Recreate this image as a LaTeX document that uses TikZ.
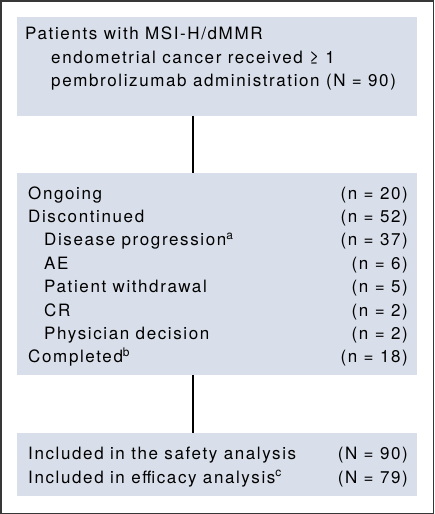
\documentclass[tikz,border=0pt]{standalone}
\usepackage{fontspec}
\setmainfont[LetterSpace=9.5]{TeX Gyre Heros}
\usetikzlibrary{positioning}
\definecolor{boxfill}{RGB}{217,223,234}
\definecolor{framegray}{RGB}{55,55,55}
\tikzset{
  flowbox/.style={fill=boxfill, inner sep=0pt, anchor=north west},
  rowtext/.style={anchor=base west, inner sep=0pt, font=\fontsize{17}{20}\selectfont},
  rowcount/.style={anchor=base east, inner sep=0pt, font=\fontsize{17}{20}\selectfont},
  link/.style={line width=1.3pt}
}
\begin{document}
\begin{tikzpicture}[x=1pt,y=-1pt]
\useasboundingbox (0,0) rectangle (434,514);
\draw[framegray, line width=1.5pt] (0.75,0.75) rectangle (433.25,513.25);

% boxes
\node[flowbox, minimum width=400pt, minimum height=99pt] (enrol) at (17,17) {};
\node[flowbox, minimum width=400pt, minimum height=202pt] (status) at (17,173) {};
\node[flowbox, minimum width=400pt, minimum height=63pt] (analysis) at (17,433) {};

% connectors
\coordinate (xl) at (193,0);
\draw[link] (enrol.south -| xl) -- (status.north -| xl);
\draw[link] (status.south -| xl) -- (analysis.north -| xl);

% first box
\node[rowtext] (enrol1) at (25,39.5) {Patients with MSI-H/dMMR};
\node[rowtext] (enrol2) at (51,63) {endometrial cancer received ≥ 1};
\node[rowtext] (enrol3) at (51,86.5) {pembrolizumab administration (N = 90)};

% second box
\foreach \ind/\lbl/\num [count=\i from 0] in
  {28/Ongoing/20, 28/Discontinued/52, 44/{Disease progression\textsuperscript{a}}/37,
   44/AE/6, 44/Patient withdrawal/5, 44/CR/2, 44/Physician decision/2,
   28/{Completed\textsuperscript{b}}/18}
{
  \node[rowtext] (stat\i) at (\ind,{199+23.4*\i}) {\lbl};
  \node[rowcount] (statn\i) at (408,{199+23.4*\i}) {(n = \num)};
}

% third box
\node[rowtext] (anal1) at (28,459.5) {Included in the safety analysis};
\node[rowcount] (analn1) at (408,459.5) {(N = 90)};
\node[rowtext] (anal2) at (28,483) {Included in efficacy analysis\textsuperscript{c}};
\node[rowcount] (analn2) at (408,483) {(N = 79)};

\end{tikzpicture}
\end{document}
